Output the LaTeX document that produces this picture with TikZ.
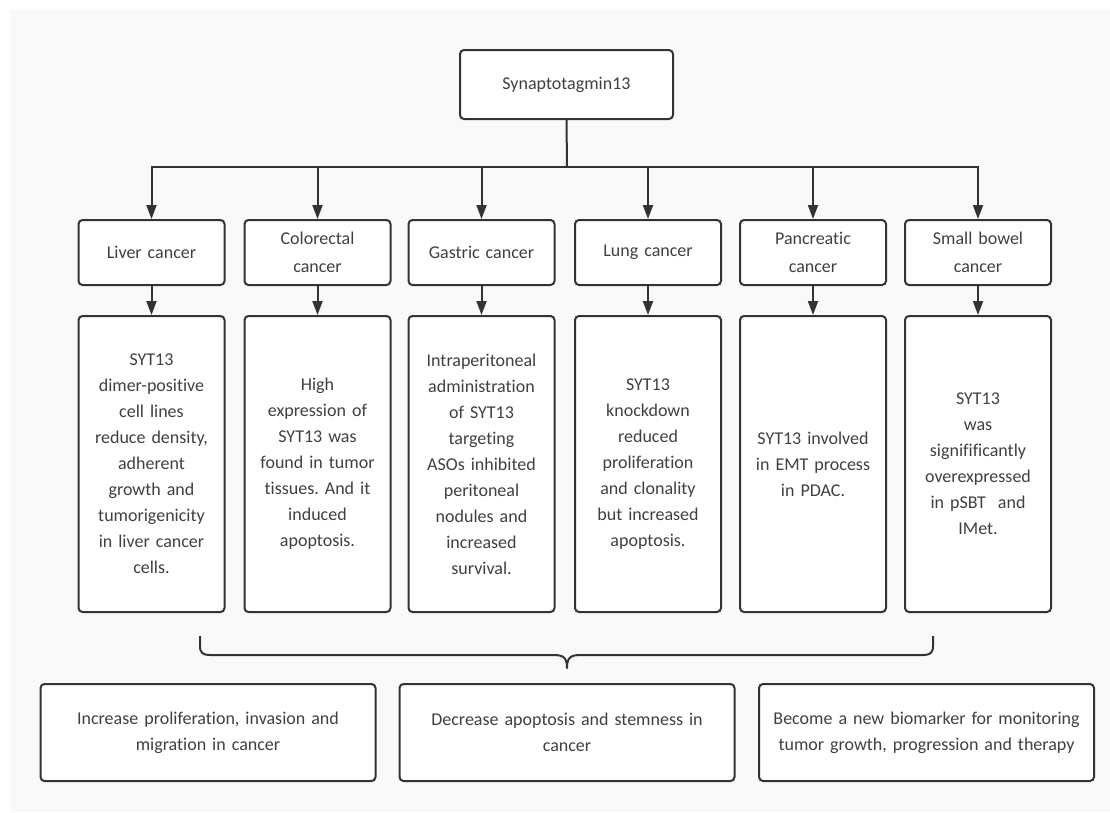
\documentclass[tikz,border=0pt]{standalone}
\usepackage{fontspec}
\setmainfont{Carlito}[Ligatures=NoCommon]
\usetikzlibrary{arrows.meta}
\definecolor{bggray}{HTML}{F9F9F9}
\definecolor{edge}{HTML}{333333}
\definecolor{ink}{HTML}{404040}
\frenchspacing
\begin{document}
\begin{tikzpicture}[x=1pt,y=-1pt,
  box/.style={draw=edge, fill=white, line width=2pt, rounded corners=4pt,
    inner sep=0pt, align=center, text=ink,
    font=\fontsize{18}{26}\selectfont},
  headbox/.style={box, minimum width=146pt, minimum height=65pt, text width=136pt,
    font=\fontsize{18}{28}\selectfont},
  tallbox/.style={box, minimum width=146pt, minimum height=296pt, text width=140pt},
  resbox/.style={box, minimum width=335pt, minimum height=97pt, text width=320pt,
    font=\fontsize{18}{26}\selectfont},
  arr/.style={draw=edge, line width=2pt, -{Triangle[length=14pt,width=10pt]}},
  conn/.style={draw=edge, line width=2pt}
]
\useasboundingbox (0,0) rectangle (1110,812);
\fill[white] (0,0) rectangle (1110,812);
\fill[bggray] (10,10) rectangle (1110,812);

\node[box, minimum width=213pt, minimum height=69pt] (top) at (566.5,84.5) {Synaptotagmin13};
\coordinate (bus) at (567,167);

\node[headbox] (h1) at (151.5,252.5) {Liver cancer};
\node[headbox] (h2) at (317.5,252.5) {Colorectal\\cancer};
\node[headbox] (h3) at (481.5,252.5) {Gastric cancer};
\node[headbox] (h4) at (648,252.5) {Lung cancer};
\node[headbox] (h5) at (813,252.5) {Pancreatic\\cancer};
\node[headbox] (h6) at (978,252.5) {Small bowel\\cancer};

\node[tallbox] (t1) at (151.5,464) {SYT13\\dimer-positive\\cell lines\\reduce density,\\adherent\\growth and\\tumorigenicity\\in liver cancer\\cells.};
\node[tallbox] (t2) at (317.5,464) {High\\expression of\\SYT13 was\\found in tumor\\tissues. And it\\induced\\apoptosis.};
\node[tallbox] (t3) at (481.5,464) {Intraperitoneal\\administration\\of SYT13\\targeting\\ASOs inhibited\\peritoneal\\nodules and\\increased\\survival.};
\node[tallbox] (t4) at (648,464) {SYT13\\knockdown\\reduced\\proliferation\\and clonality\\but increased\\apoptosis.};
\node[tallbox] (t5) at (813,464) {SYT13 involved\\in EMT process\\in PDAC.};
\node[tallbox] (t6) at (978,464) {SYT13\\was\\signifificantly\\overexpressed\\in pSBT\ \ and\\IMet.};

\node[resbox] (r1) at (208,732.5) {Increase proliferation, invasion and\\migration in cancer};
\node[resbox] (r2) at (567,732.5) {Decrease apoptosis and stemness in\\cancer};
\node[resbox] (r3) at (926.5,732.5) {Become a new biomarker for monitoring\\tumor growth, progression and therapy};

\draw[conn] (top.south) -- (bus);
\foreach \i in {1,...,6} {
  \draw[arr] (bus) -| (h\i.north);
  \draw[arr] (h\i.south) -- (t\i.north);
}

% brace
\coordinate (bl) at (200,636);
\coordinate (br) at (933,636);
\coordinate (bt) at (567,668);
\draw[conn, line join=round] (bl) -- (200,646) .. controls (200,653) and (203,655) .. (210,655)
  -- (553,655) .. controls (563,655) and (567,657) .. (bt)
  .. controls (567,657) and (571,655) .. (581,655) -- (923,655)
  .. controls (930,655) and (933,653) .. (933,646) -- (br);
\end{tikzpicture}
\end{document}
